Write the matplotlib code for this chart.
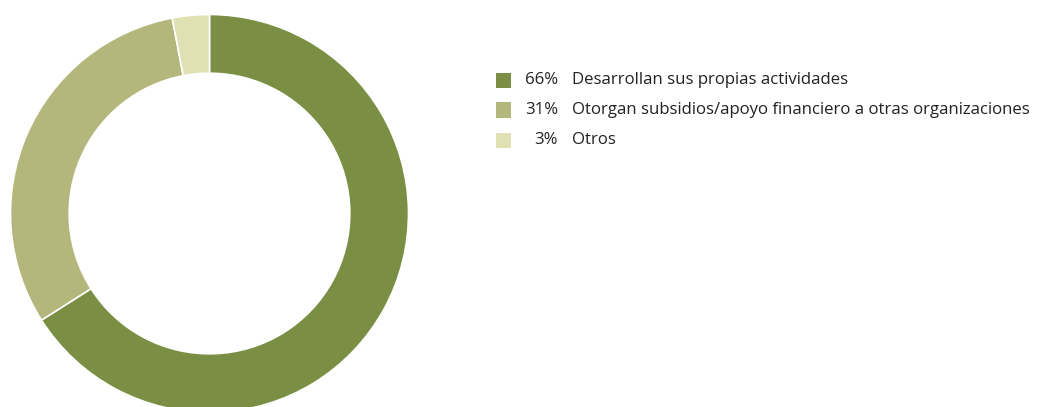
import matplotlib.pyplot as plt
from matplotlib.patches import Rectangle

# data
labels = ['Desarrollan sus propias actividades',
          'Otorgan subsidios/apoyo financiero a otras organizaciones',
          'Otros']
values = [66, 31, 3]
colors = ['#7a8f43', '#b3b77c', '#dfe0b4']

plt.rcParams['font.family'] = ['Open Sans', 'DejaVu Sans']

W, H = 1038, 407
fig = plt.figure(figsize=(W / 100, H / 100), dpi=100)

# donut, centre at (209.5, 213.5) px from top-left, outer radius 199 px
r = 199
cx, cy = 209.5, 213.5
ax = fig.add_axes([(cx - r) / W, (H - cy - r) / H, 2 * r / W, 2 * r / H])
ax.pie(values, colors=colors, startangle=90, counterclock=False, radius=1,
       wedgeprops=dict(width=0.295, edgecolor='white', linewidth=1.2))
ax.set_xlim(-1, 1)
ax.set_ylim(-1, 1)
ax.set_aspect('equal')
ax.axis('off')

# legend drawn by hand
rows_y = [80.5, 110, 140]
for yy, v, lab, c in zip(rows_y, values, labels, colors):
    fig.patches.append(Rectangle((496 / W, (H - yy - 7.5) / H), 15 / W, 15 / H,
                                 transform=fig.transFigure, facecolor=c,
                                 edgecolor='none'))
    fig.text(558 / W, (H - yy) / H, f'{v}%', ha='right', va='center',
             fontsize=12.1, color='#222222')
    fig.text(572 / W, (H - yy) / H, lab, ha='left', va='center',
             fontsize=12.1, color='#222222')

fig.savefig('out.png', dpi=100)
